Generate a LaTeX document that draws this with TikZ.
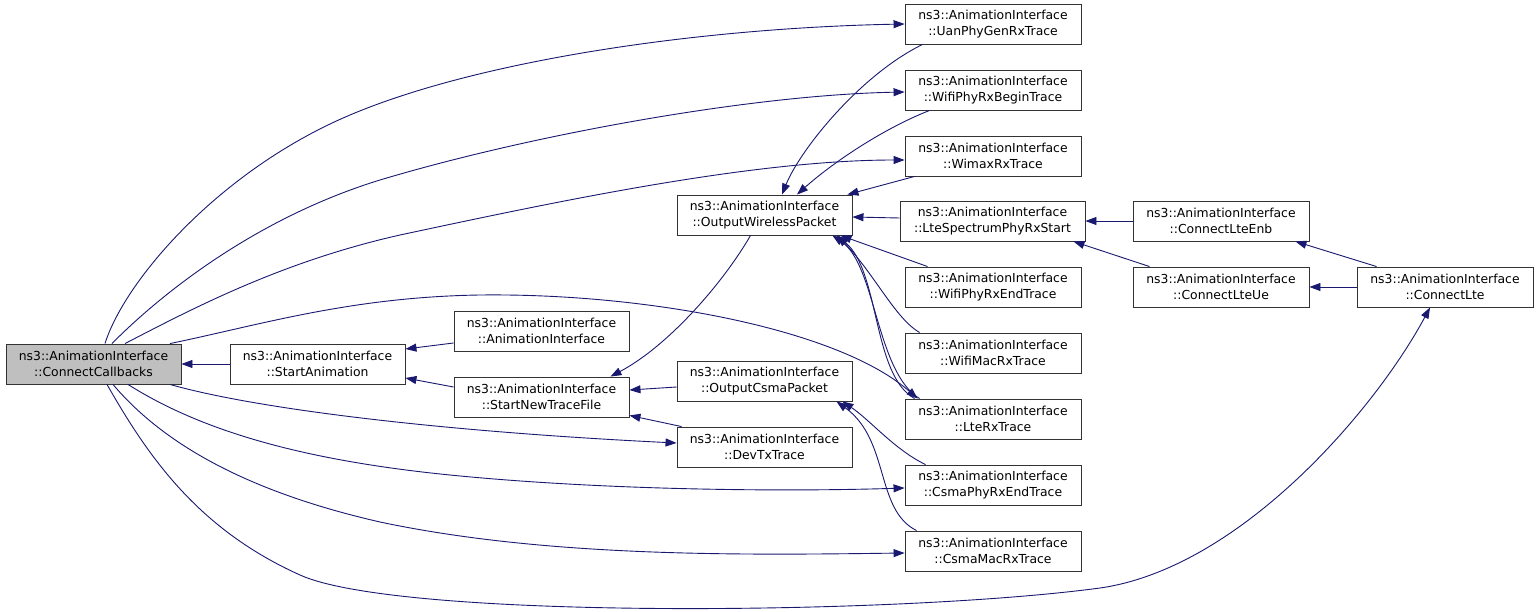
\documentclass[tikz,border=0pt]{standalone}
\usepackage{fontspec}
\setmainfont{DejaVu Sans}
\usetikzlibrary{arrows.meta,calc}
\definecolor{edgec}{HTML}{191970}
\definecolor{ccfill}{HTML}{BFBFBF}
\begin{document}
\begin{tikzpicture}[x=1pt,y=-1pt,
  fn/.style={draw=black!80,line width=0.9pt,fill=white,minimum width=175pt,minimum height=40pt,inner sep=0pt,align=center,font=\fontsize{12.4}{16}\selectfont},
  fnr/.style={fn,minimum width=176pt},
  wide/.style={fn,minimum width=185pt},
  call/.style={draw=edgec,line width=0.9pt,-{Triangle[length=11pt,width=8pt]}}
]
\path[fill=white] (0,0) rectangle (1539,612);
\useasboundingbox (0,0) rectangle (1539,612);

% nodes
\node[fn,fill=ccfill] (cc) at (93.5,364) {ns3::AnimationInterface\\::ConnectCallbacks};
\node[fn] (sa) at (317.5,364) {ns3::AnimationInterface\\::StartAnimation};
\node[fn] (ai) at (541.5,331) {ns3::AnimationInterface\\::AnimationInterface};
\node[fn] (sntf) at (541.5,397) {ns3::AnimationInterface\\::StartNewTraceFile};
\node[fn] (owp) at (764.5,215) {ns3::AnimationInterface\\::OutputWirelessPacket};
\node[fn] (ocp) at (764.5,381) {ns3::AnimationInterface\\::OutputCsmaPacket};
\node[fn] (dtx) at (764.5,447) {ns3::AnimationInterface\\::DevTxTrace};
\node[fnr] (uan) at (993,24) {ns3::AnimationInterface\\::UanPhyGenRxTrace};
\node[fnr] (wprb) at (993,90) {ns3::AnimationInterface\\::WifiPhyRxBeginTrace};
\node[fnr] (wim) at (993,156) {ns3::AnimationInterface\\::WimaxRxTrace};
\node[wide] (lsp) at (992.5,221) {ns3::AnimationInterface\\::LteSpectrumPhyRxStart};
\node[fnr] (wpre) at (993,287) {ns3::AnimationInterface\\::WifiPhyRxEndTrace};
\node[fnr] (wmr) at (993,353) {ns3::AnimationInterface\\::WifiMacRxTrace};
\node[fnr] (lrx) at (993,419) {ns3::AnimationInterface\\::LteRxTrace};
\node[fnr] (cpre) at (993,485) {ns3::AnimationInterface\\::CsmaPhyRxEndTrace};
\node[fnr] (cmr) at (993,551) {ns3::AnimationInterface\\::CsmaMacRxTrace};
\node[fnr] (cle) at (1221,221) {ns3::AnimationInterface\\::ConnectLteEnb};
\node[fnr] (clu) at (1221,287) {ns3::AnimationInterface\\::ConnectLteUe};
\node[fnr] (cl) at (1445,287) {ns3::AnimationInterface\\::ConnectLte};

% edges
\draw[call] (sa.west) -- (cc.east);
\draw[call] ($(ai.west)+(0,12)$) -- ($(sa.east)+(0,-15)$);
\draw[call] ($(sntf.west)+(0,-10)$) -- ($(sa.east)+(0,14)$);
\draw[call] ($(owp.south)+(-14,0)$) .. controls (725,280) and (670,345) .. ($(sntf.north)+(69,0)$);
\draw[call] ($(ocp.west)+(0,6)$) -- ($(sntf.east)+(0,-7)$);
\draw[call] ($(dtx.north west)+(5,0)$) -- ($(sntf.south east)+(0,-2)$);
\draw[call] ($(cc.south)+(76.5,0)$) .. controls (260,410) and (450,432) .. ($(dtx.west)+(0,-4)$);

\draw[call] ($(cc.north)+(11.5,0)$) .. controls (125,280) and (220,170) .. (350,115)
   .. controls (480,60) and (700,28) .. (uan.west);
\draw[call] ($(cc.north)+(18.5,0)$) .. controls (155,300) and (250,220) .. (380,180)
   .. controls (530,135) and (750,95) .. ($(wprb.west)+(0,2)$);
\draw[call] ($(cc.north)+(31.5,0)$) .. controls (190,310) and (280,262) .. (400,235)
   .. controls (550,203) and (750,160) .. ($(wim.west)+(0,4)$);
\draw[call] ($(cc.north)+(76.5,0)$) .. controls (260,325) and (350,297) .. (480,295)
   .. controls (650,293) and (840,330) .. ($(lrx.north west)+(13,0)$);
\draw[call] ($(cc.south)+(34.5,0)$) .. controls (200,430) and (300,460) .. (450,475)
   .. controls (600,490) and (780,492) .. ($(cpre.west)+(0,3)$);
\draw[call] ($(cc.south)+(19.5,0)$) .. controls (160,440) and (240,490) .. (380,522)
   .. controls (550,558) and (750,555) .. ($(cmr.west)+(0,2)$);
\draw[call] ($(cc.south)+(13.5,0)$) .. controls (150,460) and (200,530) .. (300,575)
   .. controls (400,620) and (900,615) .. (1100,588)
   .. controls (1240,568) and (1375,410) .. ($(cl.south)+(-15,0)$);

\draw[call] ($(uan.south west)+(18,0)$) .. controls (860,75) and (800,150) .. ($(owp.north)+(17.5,0)$);
\draw[call] ($(wprb.south west)+(25,0)$) .. controls (880,130) and (830,165) .. ($(owp.north)+(32.5,0)$);
\draw[call] ($(wim.south west)+(10,0)$) -- ($(owp.north east)+(-5,0)$);
\draw[call] ($(lsp.west)+(0,-3)$) -- ($(owp.east)+(0,2)$);
\draw[call] ($(wpre.north west)+(23,0)$) -- ($(owp.south east)+(-12,0)$);
\draw[call] ($(wmr.north west)+(15,0)$) .. controls (895,318) and (875,275) .. ($(owp.south east)+(-15,0)$);
\draw[call] ($(lrx.north west)+(10,0)$) .. controls (872,375) and (880,270) .. ($(owp.south east)+(-16,0)$);
\draw[call] ($(lrx.north west)+(15,0)$) .. controls (876,372) and (876,265) .. ($(owp.south east)+(-20,0)$);
\draw[call] ($(cpre.north west)+(21,0)$) .. controls (895,450) and (870,420) .. ($(ocp.south east)+(-10,0)$);
\draw[call] ($(cmr.north west)+(12,0)$) .. controls (875,510) and (890,440) .. ($(ocp.south east)+(-16,0)$);

\draw[call] (cle.west) -- (lsp.east);
\draw[call] ($(clu.north west)+(17,0)$) -- ($(lsp.south east)+(-12,0)$);
\draw[call] ($(cl.north west)+(20,0)$) -- ($(cle.south east)+(-14,0)$);
\draw[call] (cl.west) -- (clu.east);
\end{tikzpicture}
\end{document}
